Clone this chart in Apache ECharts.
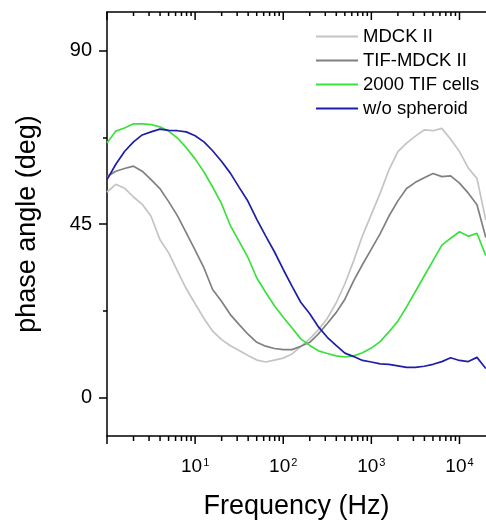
<!DOCTYPE html>
<html>
<head>
<meta charset="utf-8">
<script src="https://cdn.jsdelivr.net/npm/echarts@6/dist/echarts.min.js"></script>
<style>html,body{margin:0;padding:0;background:#fff;}#chart{width:486px;height:525px;}</style>
</head>
<body>
<div id="chart"></div>
<script>
// Frequencies (Hz), ~10 points per decade
var freq = [1, 1.26, 1.58, 2, 2.51, 3.16, 3.98, 5.01, 6.31, 7.94,
  10, 12.6, 15.8, 20, 25.1, 31.6, 39.8, 50.1, 63.1, 79.4,
  100, 126, 158, 200, 251, 316, 398, 501, 631, 794,
  1000, 1260, 1580, 2000, 2510, 3160, 3980, 5010, 6310, 7940,
  10000, 12600, 15800, 19900];

var seriesNames = ['MDCK II', 'TIF-MDCK II', '2000 TIF cells', 'w/o spheroid'];

var mdck = [53.3, 55.3, 54.3, 52.0, 50.1, 47.0, 41.0, 37.5, 32.8, 28.2,
  24.3, 20.5, 17.2, 15.0, 13.4, 12.2, 10.9, 9.7, 9.2, 9.7,
  10.2, 11.3, 13.2, 15.2, 17.6, 20.5, 24.5, 29.5, 35.5, 42.0,
  47.5, 53.0, 59.0, 63.8, 66.0, 67.8, 69.4, 69.2, 69.8, 67.0,
  63.8, 59.5, 56.8, 46.0];

var tifMdck = [57.3, 58.7, 59.4, 60.0, 58.7, 56.5, 54.2, 50.8, 47.1, 42.7,
  38.2, 33.6, 28.0, 24.9, 21.5, 18.9, 16.4, 14.3, 13.3, 12.7,
  12.4, 12.4, 13.3, 14.3, 16.5, 19.2, 22.0, 25.5, 30.3, 34.5,
  38.5, 42.5, 47.0, 51.0, 54.2, 55.8, 57.0, 58.1, 57.3, 57.5,
  55.6, 53.0, 50.0, 41.5];

var tifCells = [66.0, 69.1, 69.9, 71.0, 71.0, 70.8, 70.2, 69.1, 67.3, 64.8,
  61.9, 58.5, 54.6, 50.2, 44.6, 40.5, 36.3, 31.0, 27.3, 23.8,
  20.8, 18.0, 15.2, 13.5, 12.1, 11.4, 10.8, 10.5, 10.8, 11.6,
  12.8, 14.5, 17.0, 19.8, 23.5, 27.5, 31.5, 35.5, 39.5, 41.3,
  43.0, 41.8, 42.6, 36.8];

var noSpheroid = [56.5, 60.5, 63.8, 66.3, 68.1, 68.9, 69.6, 69.3, 69.2, 68.9,
  67.9, 66.3, 64.0, 61.2, 58.2, 54.5, 50.9, 46.2, 41.9, 37.8,
  33.2, 28.8, 24.7, 21.7, 18.3, 15.6, 13.5, 11.5, 10.6, 9.6,
  9.2, 8.7, 8.6, 8.2, 7.8, 7.8, 8.1, 8.6, 9.3, 10.3,
  9.6, 9.3, 10.4, 7.5];

var xMajorTicks = [1, 10, 100, 1000, 10000];
var xLabelTicks = [10, 100, 1000, 10000];
var xMinorTicks = [2, 3, 4, 5, 6, 7, 8, 9, 20, 30, 40, 50, 60, 70, 80, 90,
  200, 300, 400, 500, 600, 700, 800, 900, 2000, 3000, 4000, 5000, 6000, 7000, 8000, 9000];
var yMajorTicks = [0, 45, 90];
var yMinorTicks = [22.5, 67.5];

var colors = ['#c4c4c4', '#808080', '#3ce03c', '#1e1ea6'];
var FONT = 'Liberation Sans, Arial, sans-serif';
var Y_MIN = -10, Y_MAX = 100;

function pairs(vals) {
  return freq.map(function (f, i) { return [f, vals[i]]; });
}

var allData = [mdck, tifMdck, tifCells, noSpheroid];

// tick table built from the tick lists: [value, isMajor]
var xTickTable = xMajorTicks.map(function (v) { return [v, 1]; })
  .concat(xMinorTicks.map(function (v) { return [v, 0]; }));

var chart = echarts.init(document.getElementById('chart'), null, { renderer: 'canvas' });

var lineSeries = seriesNames.map(function (name, i) {
  return {
    name: name, type: 'line', xAxisIndex: 0, yAxisIndex: 0,
    data: pairs(allData[i]),
    symbol: 'none', showSymbol: false, smooth: false,
    lineStyle: { color: colors[i], width: 1.7 },
    itemStyle: { color: colors[i] },
    z: 2 + i
  };
});

var tickSeries = {
  type: 'custom', xAxisIndex: 0, yAxisIndex: 0, silent: true, clip: false,
  data: xTickTable, z: 10,
  renderItem: function (params, api) {
    var v = api.value(0);
    var major = api.value(1) === 1;
    var b = api.coord([v, Y_MIN]);
    var t = api.coord([v, Y_MAX]);
    var st = { stroke: '#000', lineWidth: 1.5 };
    var lb = major ? 8 : 5;
    var lt = major ? 8 : 4;
    return {
      type: 'group',
      children: [
        { type: 'line', shape: { x1: b[0], y1: b[1], x2: b[0], y2: b[1] + lb }, style: st },
        { type: 'line', shape: { x1: t[0], y1: t[1], x2: t[0], y2: t[1] + lt }, style: st }
      ]
    };
  }
};

chart.setOption({
  animation: false,
  backgroundColor: '#fff',
  grid: { left: 107, right: 0, top: 12, bottom: 87, containLabel: false },
  legend: {
    orient: 'vertical', left: 316, top: 27, padding: 0,
    itemWidth: 42, itemHeight: 2, itemGap: 5, icon: 'rect',
    data: seriesNames,
    textStyle: { fontFamily: FONT, fontSize: 18.5, color: '#000', lineHeight: 18.5 }
  },
  xAxis: [
    {
      type: 'log', logBase: 10, position: 'bottom', min: 1, max: 20000,
      axisLine: { show: true, onZero: false, lineStyle: { color: '#000', width: 1.5 } },
      axisTick: { show: false },
      axisLabel: {
        show: true, customValues: xLabelTicks, margin: 21,
        formatter: function (v) {
          var e = Math.round(Math.log(v) / Math.LN10);
          return '{b|10}{s|' + e + '}';
        },
        rich: {
          b: { fontFamily: FONT, fontSize: 19, color: '#000' },
          s: { fontFamily: FONT, fontSize: 11, color: '#000', verticalAlign: 'top', padding: [0, 0, 0, 1] }
        }
      },
      splitLine: { show: false }, minorTick: { show: false }, minorSplitLine: { show: false },
      name: 'Frequency (Hz)', nameLocation: 'middle', nameGap: 57,
      nameTextStyle: { fontFamily: FONT, fontSize: 27, color: '#000' }
    },
    {
      type: 'log', logBase: 10, position: 'top', min: 1, max: 20000,
      axisLine: { show: true, onZero: false, lineStyle: { color: '#000', width: 1.5 } },
      axisTick: { show: false }, axisLabel: { show: false },
      splitLine: { show: false }
    }
  ],
  yAxis: [
    {
      type: 'value', position: 'left', min: Y_MIN, max: Y_MAX, offset: 0,
      axisLine: { show: true, onZero: false, lineStyle: { color: '#000', width: 1.5 } },
      axisTick: { show: true, customValues: yMajorTicks, length: 8, lineStyle: { color: '#000', width: 1.5 } },
      axisLabel: { show: true, customValues: yMajorTicks, margin: 15, fontFamily: FONT, fontSize: 20, color: '#000' },
      splitLine: { show: false },
      name: 'phase angle (deg)', nameLocation: 'middle', nameGap: 66,
      nameTextStyle: { fontFamily: FONT, fontSize: 27, color: '#000' }
    },
    {
      type: 'value', position: 'left', min: Y_MIN, max: Y_MAX, offset: 0,
      axisLine: { show: false, onZero: false },
      axisTick: { show: true, customValues: yMinorTicks, length: 4, lineStyle: { color: '#000', width: 1.5 } },
      axisLabel: { show: false },
      splitLine: { show: false }
    }
  ],
  series: lineSeries.concat([tickSeries])
});
</script>
</body>
</html>
